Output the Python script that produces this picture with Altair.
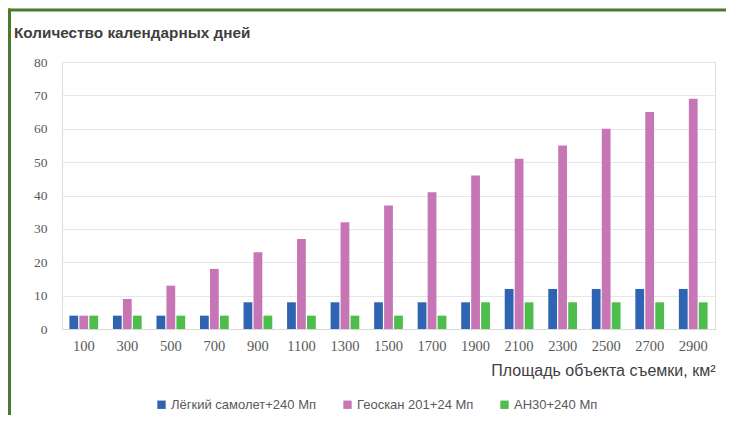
import altair as alt
import pandas as pd

areas = ["100", "300", "500", "700", "900", "1100", "1300", "1500", "1700",
         "1900", "2100", "2300", "2500", "2700", "2900"]
series = ["Лёгкий самолет+240 Мп", "Геоскан 201+24 Мп", "АН30+240 Мп"]
light = [4, 4, 4, 4, 8, 8, 8, 8, 8, 8, 12, 12, 12, 12, 12]
geoscan = [4, 9, 13, 18, 23, 27, 32, 37, 41, 46, 51, 55, 60, 65, 69]
an30 = [4, 4, 4, 4, 4, 4, 4, 4, 4, 8, 8, 8, 8, 8, 8]
colors = ["#2F64B2", "#C675B5", "#4DBE4B"]
y_title = "Количество календарных дней"
x_title = "Площадь объекта съемки, км²"

rows = []
for name, vals in zip(series, [light, geoscan, an30]):
    for a, v in zip(areas, vals):
        rows.append({"area": a, "series": name, "days": v})
df = pd.DataFrame(rows)

W, H = 653, 267
PL, PT, PR, PB = 54, 54, 11, 86

bars = alt.Chart(df).mark_bar().encode(
    x=alt.X("area:N", sort=areas,
            scale=alt.Scale(paddingInner=0.34, paddingOuter=0.17),
            axis=alt.Axis(title=x_title, labelAngle=0, labelFont="Liberation Serif",
                          labelFontSize=14.5, labelColor="#595959", labelPadding=10,
                          ticks=False, grid=False, domainColor="#D9D9D9",
                          titleFont="Liberation Sans", titleFontSize=16,
                          titleFontWeight="normal", titleColor="#404040",
                          titleX=W, titleY=41, titleAlign="right",
                          titleBaseline="middle")),
    xOffset=alt.XOffset("series:N", sort=series,
                        scale=alt.Scale(paddingInner=0.12)),
    y=alt.Y("days:Q", scale=alt.Scale(domain=[0, 80]),
            axis=alt.Axis(title=None, values=list(range(0, 81, 10)),
                          labelFont="Liberation Serif", labelFontSize=13.5,
                          labelColor="#595959", labelPadding=15, ticks=False,
                          domain=False, gridColor="#E6E6E6")),
    color=alt.Color("series:N", sort=series,
                    scale=alt.Scale(domain=series, range=colors),
                    legend=alt.Legend(title=None, orient="none", direction="horizontal",
                                      legendX=93, legendY=336, symbolType="square",
                                      symbolSize=70, symbolStrokeWidth=0,
                                      labelFont="Liberation Sans", labelFontSize=13,
                                      labelColor="#595959", columnPadding=24,
                                      labelOffset=3)),
)

title_df = pd.DataFrame({"t": [y_title]})
title = alt.Chart(title_df).mark_text(
    align="left", baseline="middle", font="Liberation Sans", fontSize=15.3,
    fontWeight="bold", color="#404040"
).encode(text="t:N", x=alt.value(-48), y=alt.value(-29))

frame_df = pd.DataFrame({"f": [1]})
top_border = alt.Chart(frame_df).mark_rule(color="#4A7A2C", strokeWidth=3).encode(
    x=alt.value(-PL), x2=alt.value(W + PR), y=alt.value(-52))
left_border = alt.Chart(frame_df).mark_rule(color="#4A7A2C", strokeWidth=3).encode(
    x=alt.value(-52.5), y=alt.value(-53.5), y2=alt.value(H + PB))

chart = alt.layer(bars, title, top_border, left_border).properties(
    width=W, height=H,
    autosize=alt.AutoSizeParams(type="none"),
    padding={"left": PL, "top": PT, "right": PR, "bottom": PB},
).configure_view(stroke=None).configure(background="white")

chart.save("out.html", embed_options={"renderer": "svg", "actions": False})
